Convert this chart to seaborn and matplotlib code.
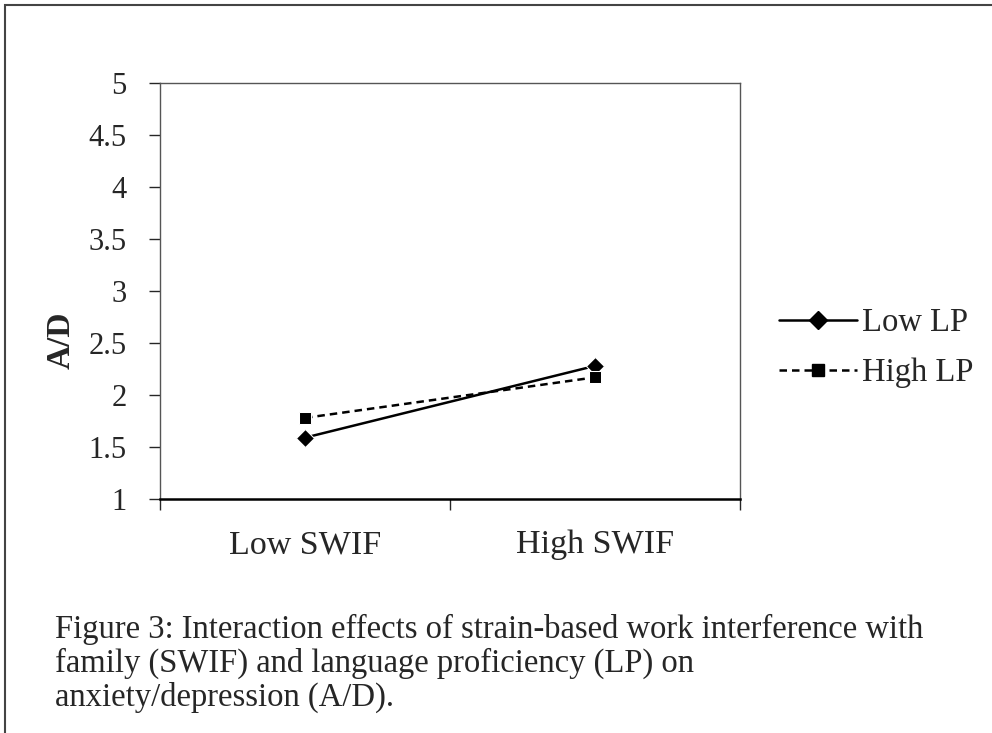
import pandas as pd
import seaborn as sns
import matplotlib.pyplot as plt
from matplotlib.patches import Rectangle
from matplotlib.lines import Line2D
from matplotlib.ticker import FixedLocator, NullFormatter

categories = ['Low SWIF', 'High SWIF']
series = ['Low LP', 'High LP']
low_lp = [1.59, 2.28]
high_lp = [1.78, 2.17]
y_ticks = [1, 1.5, 2, 2.5, 3, 3.5, 4, 4.5, 5]
y_labels = ['1', '1.5', '2', '2.5', '3', '3.5', '4', '4.5', '5']
caption = ('Figure 3: Interaction effects of strain-based work interference with\n'
           'family (SWIF) and language proficiency (LP) on\n'
           'anxiety/depression (A/D).')

df = pd.DataFrame({
    'swif': categories * 2,
    'ad': low_lp + high_lp,
    'lp': [series[0]] * 2 + [series[1]] * 2,
})

sns.set_style('white')
plt.rcParams['font.family'] = ['Liberation Serif', 'DejaVu Serif']

fig = plt.figure(figsize=(9.92, 7.33), dpi=100)
ax = fig.add_axes([0.1613, 0.3192, 0.5847, 0.5676])

sns.lineplot(data=df, x='swif', y='ad', hue='lp', style='lp',
             palette={'Low LP': 'black', 'High LP': 'black'},
             markers={'Low LP': 'D', 'High LP': 's'},
             dashes={'Low LP': '', 'High LP': (3, 2)},
             markersize=9, linewidth=1.8, ax=ax, legend=False)

# legend handles by hand so the dash pattern matches
handles = [Line2D([], [], color='black', lw=1.8, marker='D', markersize=9),
           Line2D([], [], color='black', lw=1.8, ls=(0, (3, 2)), marker='s', markersize=9)]
fig.legend(handles, series, loc='center left', bbox_to_anchor=(0.785, 0.525),
           frameon=False, fontsize=23.5, handlelength=2.4, handletextpad=0.15,
           labelspacing=0.6, borderpad=0, borderaxespad=0)

ax.set_xlim(-0.5, 1.5)
ax.set_ylim(1, 5)
ax.set_yticks(y_ticks)
ax.set_yticklabels(y_labels, fontsize=22)
ax.xaxis.set_major_locator(FixedLocator([-0.5, 0.5, 1.5]))
ax.xaxis.set_major_formatter(NullFormatter())
ax.xaxis.set_minor_locator(FixedLocator([0, 1]))
ax.set_xticklabels(categories, minor=True, fontsize=24.5)
ax.tick_params(axis='x', which='major', length=8, width=1, direction='out', bottom=True)
ax.tick_params(axis='x', which='minor', length=0, pad=22)
ax.tick_params(axis='y', length=8, width=1, direction='out', left=True, pad=16)

for s in ax.spines.values():
    s.set_color('#555555')
    s.set_linewidth(1)
ax.spines['bottom'].set_color('black')
ax.spines['bottom'].set_linewidth(1.8)

ax.set_xlabel('')
ax.set_ylabel('A/D', fontsize=24, fontweight='bold')
ax.yaxis.set_label_coords(-0.143, 0.382)

fig.text(0.055, 0.163, caption, fontsize=23.5, ha='left', va='top', linespacing=1.12)

fig.patches.append(Rectangle((0.005, -0.01), 1.2, 1.003, transform=fig.transFigure,
                             fill=False, edgecolor='#444444', linewidth=1.5))

fig.savefig('out.png', dpi=100)
